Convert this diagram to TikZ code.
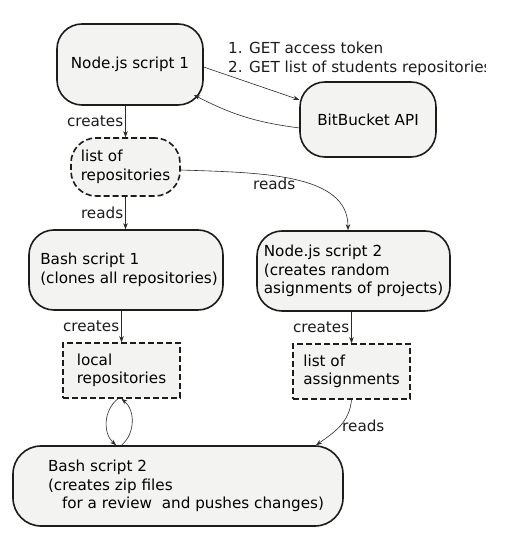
\documentclass[tikz,border=0pt]{standalone}
\usepackage{fontspec}
\setmainfont{DejaVu Sans}
\usepackage{tikz}
\usetikzlibrary{calc,arrows.meta}
\definecolor{ink}{HTML}{1C1C1C}
\definecolor{boxfill}{HTML}{F3F3F1}
\definecolor{wire}{HTML}{2A2A2A}
\tikzset{
  proc/.style={draw=ink, fill=boxfill, line width=1.6pt, rounded corners=25pt, align=left},
  list/.style={proc, dash pattern=on 6pt off 3pt},
  file/.style={draw=ink, fill=boxfill, line width=1.5pt, dash pattern=on 6pt off 3pt, align=left},
  flow/.style={draw=wire, line width=0.6pt, -{Stealth[length=6pt,width=4.5pt]}},
  lab/.style={text=ink, inner sep=2pt},
}
\begin{document}
\begin{tikzpicture}[x=1pt, y=1pt, font=\fontsize{15.2pt}{18.6pt}\selectfont]
  \path[use as bounding box, fill=white] (0,0) rectangle (505,545);
  % boxes
  \node[proc, minimum width=146pt, minimum height=81pt] (njs1) at (130,480.5) {Node.js script 1};
  \node[proc, minimum width=136pt, minimum height=75pt] (bb) at (368,425.5) {BitBucket API};
  \node[list, minimum width=109pt, minimum height=58pt] (repos) at (125.5,378) {list of\\repositories};
  \node[proc, minimum width=194pt, minimum height=80pt] (bash1) at (126,275) {\hspace*{6pt}Bash script 1\\\hspace*{6pt}(clones all repositories)};
  \node[proc, minimum width=193pt, minimum height=80pt] (njs2) at (353.5,274) {Node.js script 2\\(creates random\\asignments of projects)};
  \node[file, minimum width=117pt, minimum height=55pt] (local) at (121.5,174.5) {local\\repositories};
  \node[file, minimum width=117pt, minimum height=55pt] (assign) at (351.5,173.5) {list of\\assignments};
  \node[proc, rounded corners=28pt, minimum width=330pt, minimum height=80pt] (bash2) at (178,59)
    {\hspace*{16pt}Bash script 2\\\hspace*{16pt}(creates zip files\\\hspace*{30pt}for a review~ and pushes changes)};
  % requests to the API
  \begin{scope}
    \clip (0,0) rectangle (485,545);
    \node[lab, anchor=west, align=left, inner sep=0pt] (getlbl) at (228,486)
      {1. GET access token\\2. GET list of students repositories};
  \end{scope}
  \draw[flow] (njs1.-2) -- (bb.164);
  \draw[flow] (bb.187) to[bend left=10] ($(njs1.center)+(64,-30.5)$);
  % data flow
  \draw[flow] (repos.north |- njs1.south) -- node[lab, left] {creates} (repos.north);
  \draw[flow] (repos.south) -- node[lab, left] {reads} (repos.south |- bash1.north);
  \draw[flow] ($(repos.east)+(0,-3)$) to[out=-2, in=90, out distance=80pt, in distance=57pt]
    node[lab, pos=0.4, below] {reads} ($(njs2.north)+(-5.5,0)$);
  \draw[flow] (local.north |- bash1.south) -- node[lab, left] {creates} (local.north);
  \draw[flow] (assign.north |- njs2.south) -- node[lab, left] {creates} (assign.north);
  \draw[flow] ($(local.south)+(-3.5,0)$) to[bend right=50] ($(local.south |- bash2.north)+(-5.5,0)$);
  \draw[flow] (local.south |- bash2.north) to[bend right=50] (local.south);
  \draw[flow] (assign.south) to[out=-95, in=35] node[lab, right, pos=0.5] {reads} ($(bash2.north)+(138,0)$);
\end{tikzpicture}
\end{document}
